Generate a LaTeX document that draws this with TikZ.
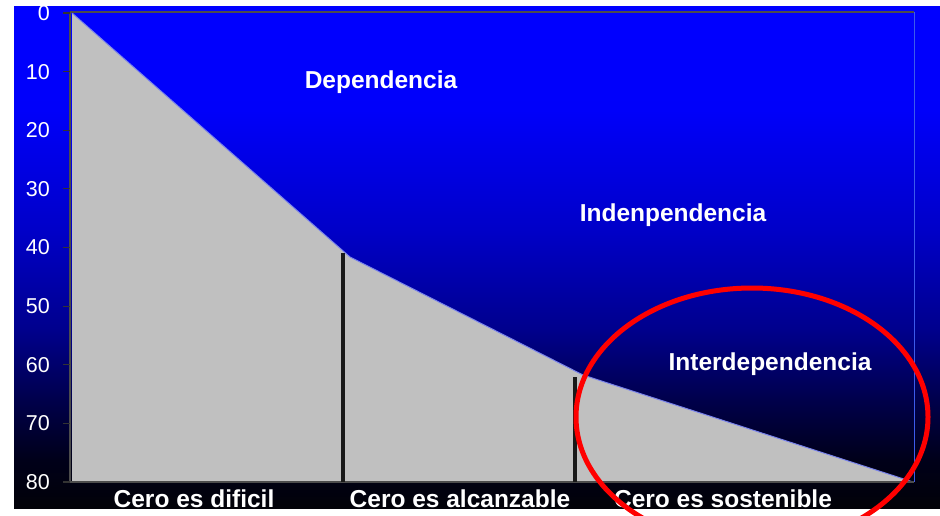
\documentclass[tikz,border=0pt]{standalone}
\usepackage{fontspec}
\setmainfont{Liberation Sans}
\usetikzlibrary{shapes.geometric}
\definecolor{s0}{RGB}{0,0,255}
\definecolor{s1}{RGB}{0,0,250}
\definecolor{s2}{RGB}{0,0,200}
\definecolor{s3}{RGB}{0,0,140}
\definecolor{s4}{RGB}{0,0,75}
\definecolor{s5}{RGB}{0,0,25}
\definecolor{s6}{RGB}{2,2,8}
\definecolor{silverfill}{RGB}{192,192,192}
\definecolor{edgeblue}{RGB}{120,130,235}
\definecolor{frameblue}{RGB}{60,90,235}
\definecolor{ringred}{RGB}{255,0,0}
\begin{document}
\begin{tikzpicture}[x=1pt,y=-1pt,
  ylab/.style={text=white,font=\fontsize{21.5}{24}\selectfont,anchor=east,inner sep=0pt},
  zone/.style={text=white,font=\bfseries\fontsize{24.5}{28}\selectfont,anchor=base,inner sep=0pt},
  divider/.style={line width=3.2pt,black!90},
  tickmark/.style={line width=1.2pt,black!80},
  frame/.style={line width=2pt,black!70}]
\useasboundingbox (0,0) rectangle (940,516);
\fill[white] (0,0) rectangle (940,516);
% background gradient panel
\shade[top color=s0,bottom color=s1] (14,7) rectangle (940,110.6);
\shade[top color=s1,bottom color=s2] (14,110) rectangle (940,230.6);
\shade[top color=s2,bottom color=s3] (14,230) rectangle (940,330.6);
\shade[top color=s3,bottom color=s4] (14,330) rectangle (940,400.6);
\shade[top color=s4,bottom color=s5] (14,400) rectangle (940,460.6);
\shade[top color=s5,bottom color=s6] (14,460) rectangle (940,508);
% area under the curve
\coordinate (p0) at (72,13);
\coordinate (p1) at (350,257);
\coordinate (p2) at (583,375);
\coordinate (p3) at (913,482);
\coordinate (p4) at (72,482);
\fill[silverfill] (p0) -- (p1) -- (p2) -- (p3) -- (p4) -- cycle;
\draw[edgeblue,line width=1pt] (p0) -- (p1) -- (p2) -- (p3);
% plot frame
\coordinate (tl) at (70,12);
\coordinate (tr) at (914,12);
\coordinate (bl) at (70,482);
\coordinate (br) at (914,482);
\draw[frame] (tl) -- (bl) -- (br);
\draw[frame] (tl) -- (tr);
\draw[frameblue,line width=1pt] (tr) -- (br);
% y axis labels and ticks
\foreach \v [count=\i from 0] in {0,10,20,30,40,50,60,70,80}{
  \coordinate (ta\v) at (63,{13+\i*58.625});
  \coordinate (tb\v) at (70,{13+\i*58.625});
  \draw[tickmark] (ta\v) -- (tb\v);
  \node[ylab] (lab\v) at (50,{13+\i*58.625}) {\v};
}
% dividers
\coordinate (d1t) at (343,253);
\coordinate (d1b) at (343,482);
\coordinate (d2t) at (575,377);
\coordinate (d2b) at (575,482);
\draw[divider] (d1t) -- (d1b);
\draw[divider] (d2t) -- (d2b);
% region labels
\node[zone] (dep) at (381,89) {Dependencia};
\node[zone] (ind) at (673,222) {Indenpendencia};
\node[zone] (inter) at (770,370) {Interdependencia};
% bottom labels
\node[zone] (c1) at (194,507) {Cero es dificil};
\node[zone] (c2) at (460,507) {Cero es alcanzable};
\node[zone] (c3) at (723,507) {Cero es sostenible};
% red ellipse
\node[draw=ringred,line width=5pt,ellipse,minimum width=352pt,minimum height=258pt,inner sep=0pt] (ring) at (752,417) {};
\end{tikzpicture}
\end{document}
